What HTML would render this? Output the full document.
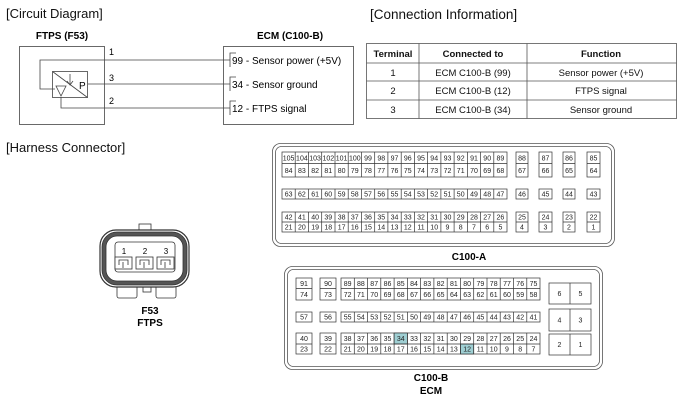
<!DOCTYPE html>
<html><head><meta charset="utf-8"><style>
html,body{margin:0;padding:0;background:#fff;}
svg{display:block;font-family:"Liberation Sans",Arial,sans-serif;}
.t{font-size:7px;text-anchor:middle;fill:#222}
.c{fill:#fff;stroke:#333;stroke-width:0.7}
</style></head><body>
<svg width="686" height="405" viewBox="0 0 686 405" xmlns="http://www.w3.org/2000/svg">
<text x="6" y="18" font-size="13" fill="#111">[Circuit Diagram]</text>
<text x="370" y="19" font-size="13.5" fill="#111">[Connection Information]</text>
<text x="6" y="152" font-size="13" fill="#111">[Harness Connector]</text>

<g fill="none" stroke="#444" stroke-width="0.8">
<rect x="19.5" y="46.5" width="85" height="78"/>
<rect x="223.5" y="46.5" width="130" height="78"/>
<rect x="52.5" y="71.5" width="35" height="26"/>
<path d="M52.5 71.5 L87.5 97.5"/>
<path d="M70 74 L70 84 M67 81 L70 85 L73 81"/>
<path d="M56 86 L66 86 L61 96 Z"/>
<path d="M55 89 L40 89 L40 60 L230 60"/>
<path d="M88 84 L230 84"/>
<path d="M61 97 L61 108 L230 108"/>
<path d="M236 53 L230 53 L230 67 M236 77 L230 77 L230 91 M236 101 L230 101 L230 115"/>
</g>
<text x="79" y="89" font-size="10">P</text>
<text x="62" y="39" font-size="10" font-weight="bold" text-anchor="middle">FTPS (F53)</text>
<text x="290" y="39" font-size="10" font-weight="bold" text-anchor="middle">ECM (C100-B)</text>
<text x="109" y="55" font-size="9">1</text>
<text x="109" y="81" font-size="9">3</text>
<text x="109" y="104" font-size="9">2</text>
<text x="232" y="64" font-size="10">99 - Sensor power (+5V)</text>
<text x="232" y="88" font-size="10">34 - Sensor ground</text>
<text x="232" y="112" font-size="10">12 - FTPS signal</text>

<g fill="none" stroke="#555" stroke-width="0.8">
<rect x="366.5" y="43.5" width="310" height="75"/>
<path d="M366.5 63 H676.5 M366.5 81 H676.5 M366.5 100 H676.5 M419 43.5 V118.5 M527 43.5 V118.5"/>
</g>
<g font-size="9.5" text-anchor="middle" fill="#111">
<text x="393" y="57" font-weight="bold">Terminal</text>
<text x="473" y="57" font-weight="bold">Connected to</text>
<text x="601" y="57" font-weight="bold">Function</text>
<text x="393" y="76">1</text><text x="473" y="76">ECM C100-B (99)</text><text x="601" y="76">Sensor power (+5V)</text>
<text x="393" y="94">2</text><text x="473" y="94">ECM C100-B (12)</text><text x="601" y="94">FTPS signal</text>
<text x="393" y="113">3</text><text x="473" y="113">ECM C100-B (34)</text><text x="601" y="113">Sensor ground</text>
</g>

<g fill="#fff" stroke="#333" stroke-width="0.8">
<rect x="139" y="224" width="12" height="8"/>
<rect x="117" y="284" width="20" height="14" rx="2"/>
<rect x="156" y="284" width="20" height="14" rx="2"/>
<rect x="143" y="287" width="8" height="5"/>
<rect x="100" y="230" width="89" height="57" rx="16" stroke-width="1.2"/>
<rect x="102" y="232" width="85" height="53" rx="15" fill="#555"/>
<rect x="106" y="236" width="77" height="45" rx="11" fill="#fff"/>
<rect x="115" y="242" width="60" height="30" rx="3"/>
<rect x="115" y="257" width="17" height="12"/><rect x="136" y="257" width="17" height="12"/><rect x="157" y="257" width="17" height="12"/>
<path d="M119 265 V260 H128 V265 M123 262 V268 M140 265 V260 H149 V265 M144 262 V268 M161 265 V260 H170 V265 M165 262 V268" fill="none"/>
</g>
<text x="124" y="254" font-size="8" text-anchor="middle">1</text>
<text x="145" y="254" font-size="8" text-anchor="middle">2</text>
<text x="166" y="254" font-size="8" text-anchor="middle">3</text>
<text x="150" y="314" font-size="10" font-weight="bold" text-anchor="middle">F53</text>
<text x="150" y="326" font-size="10" font-weight="bold" text-anchor="middle">FTPS</text>

<g fill="none" stroke="#555" stroke-width="0.8">
<rect x="272.5" y="143.5" width="342" height="103" rx="8"/>
<rect x="275.5" y="146.5" width="336" height="97" rx="6"/>
</g>
<g class="c">
<rect x="282" y="152" width="225" height="25"/>
<rect x="282" y="189" width="225" height="10"/>
<rect x="282" y="212" width="225" height="20"/>
<rect x="516" y="152" width="12" height="25"/><rect x="539" y="152" width="13" height="25"/><rect x="563" y="152" width="12" height="25"/><rect x="587" y="152" width="13" height="25"/>
<rect x="516" y="189" width="12" height="10"/><rect x="539" y="189" width="13" height="10"/><rect x="563" y="189" width="12" height="10"/><rect x="587" y="189" width="13" height="10"/>
<rect x="516" y="212" width="12" height="20"/><rect x="539" y="212" width="13" height="20"/><rect x="563" y="212" width="12" height="20"/><rect x="587" y="212" width="13" height="20"/>
<path d="M282 163.5 H507 M516 163.5 H528 M539 163.5 H552 M563 163.5 H575 M587 163.5 H600 M282 222 H507 M516 222 H528 M539 222 H552 M563 222 H575 M587 222 H600
M295.2 152V177M308.5 152V177M321.7 152V177M335 152V177M348.2 152V177M361.4 152V177M374.7 152V177M387.9 152V177M401.2 152V177M414.4 152V177M427.6 152V177M440.9 152V177M454.1 152V177M467.4 152V177M480.6 152V177M493.8 152V177
M295.2 189V199M308.5 189V199M321.7 189V199M335 189V199M348.2 189V199M361.4 189V199M374.7 189V199M387.9 189V199M401.2 189V199M414.4 189V199M427.6 189V199M440.9 189V199M454.1 189V199M467.4 189V199M480.6 189V199M493.8 189V199
M295.2 212V232M308.5 212V232M321.7 212V232M335 212V232M348.2 212V232M361.4 212V232M374.7 212V232M387.9 212V232M401.2 212V232M414.4 212V232M427.6 212V232M440.9 212V232M454.1 212V232M467.4 212V232M480.6 212V232M493.8 212V232"/>
</g>
<g class="t">
<text x="288.6" y="160.5">105</text><text x="301.9" y="160.5">104</text><text x="315.1" y="160.5">103</text><text x="328.3" y="160.5">102</text><text x="341.6" y="160.5">101</text><text x="354.8" y="160.5">100</text><text x="368" y="160.5">99</text><text x="381.3" y="160.5">98</text><text x="394.5" y="160.5">97</text><text x="407.8" y="160.5">96</text><text x="421" y="160.5">95</text><text x="434.2" y="160.5">94</text><text x="447.5" y="160.5">93</text><text x="460.7" y="160.5">92</text><text x="474" y="160.5">91</text><text x="487.2" y="160.5">90</text><text x="500.4" y="160.5">89</text>
<text x="522" y="160.5">88</text><text x="545.5" y="160.5">87</text><text x="569" y="160.5">86</text><text x="593.5" y="160.5">85</text>
<text x="288.6" y="173">84</text><text x="301.9" y="173">83</text><text x="315.1" y="173">82</text><text x="328.3" y="173">81</text><text x="341.6" y="173">80</text><text x="354.8" y="173">79</text><text x="368" y="173">78</text><text x="381.3" y="173">77</text><text x="394.5" y="173">76</text><text x="407.8" y="173">75</text><text x="421" y="173">74</text><text x="434.2" y="173">73</text><text x="447.5" y="173">72</text><text x="460.7" y="173">71</text><text x="474" y="173">70</text><text x="487.2" y="173">69</text><text x="500.4" y="173">68</text>
<text x="522" y="173">67</text><text x="545.5" y="173">66</text><text x="569" y="173">65</text><text x="593.5" y="173">64</text>
<text x="288.6" y="196.5">63</text><text x="301.9" y="196.5">62</text><text x="315.1" y="196.5">61</text><text x="328.3" y="196.5">60</text><text x="341.6" y="196.5">59</text><text x="354.8" y="196.5">58</text><text x="368" y="196.5">57</text><text x="381.3" y="196.5">56</text><text x="394.5" y="196.5">55</text><text x="407.8" y="196.5">54</text><text x="421" y="196.5">53</text><text x="434.2" y="196.5">52</text><text x="447.5" y="196.5">51</text><text x="460.7" y="196.5">50</text><text x="474" y="196.5">49</text><text x="487.2" y="196.5">48</text><text x="500.4" y="196.5">47</text>
<text x="522" y="196.5">46</text><text x="545.5" y="196.5">45</text><text x="569" y="196.5">44</text><text x="593.5" y="196.5">43</text>
<text x="288.6" y="219.5">42</text><text x="301.9" y="219.5">41</text><text x="315.1" y="219.5">40</text><text x="328.3" y="219.5">39</text><text x="341.6" y="219.5">38</text><text x="354.8" y="219.5">37</text><text x="368" y="219.5">36</text><text x="381.3" y="219.5">35</text><text x="394.5" y="219.5">34</text><text x="407.8" y="219.5">33</text><text x="421" y="219.5">32</text><text x="434.2" y="219.5">31</text><text x="447.5" y="219.5">30</text><text x="460.7" y="219.5">29</text><text x="474" y="219.5">28</text><text x="487.2" y="219.5">27</text><text x="500.4" y="219.5">26</text>
<text x="522" y="219.5">25</text><text x="545.5" y="219.5">24</text><text x="569" y="219.5">23</text><text x="593.5" y="219.5">22</text>
<text x="288.6" y="229.5">21</text><text x="301.9" y="229.5">20</text><text x="315.1" y="229.5">19</text><text x="328.3" y="229.5">18</text><text x="341.6" y="229.5">17</text><text x="354.8" y="229.5">16</text><text x="368" y="229.5">15</text><text x="381.3" y="229.5">14</text><text x="394.5" y="229.5">13</text><text x="407.8" y="229.5">12</text><text x="421" y="229.5">11</text><text x="434.2" y="229.5">10</text><text x="447.5" y="229.5">9</text><text x="460.7" y="229.5">8</text><text x="474" y="229.5">7</text><text x="487.2" y="229.5">6</text><text x="500.4" y="229.5">5</text>
<text x="522" y="229.5">4</text><text x="545.5" y="229.5">3</text><text x="569" y="229.5">2</text><text x="593.5" y="229.5">1</text>
</g>
<text x="469" y="260" font-size="10" font-weight="bold" text-anchor="middle">C100-A</text>

<g fill="none" stroke="#555" stroke-width="0.8">
<rect x="284.5" y="266.5" width="318" height="103" rx="8"/>
<rect x="287.5" y="269.5" width="312" height="97" rx="6"/>
</g>
<g class="c">
<rect x="296" y="278" width="16" height="22"/><rect x="320" y="278" width="16" height="22"/><rect x="341" y="278" width="199" height="22"/>
<rect x="296" y="312" width="16" height="10"/><rect x="320" y="312" width="16" height="10"/><rect x="341" y="312" width="199" height="10"/>
<rect x="296" y="333" width="16" height="21"/><rect x="320" y="333" width="16" height="21"/><rect x="341" y="333" width="199" height="21"/>
<rect x="394.1" y="333" width="13.3" height="11" fill="#9fcfd3"/>
<rect x="460.4" y="344" width="13.3" height="10" fill="#9fcfd3"/>
<rect x="549" y="283" width="42" height="21"/><rect x="549" y="309" width="42" height="22"/><rect x="549" y="334" width="42" height="21"/>
<path d="M570 283V304M570 309V331M570 334V355 M296 288.5H312M320 288.5H336M341 288.5H540M296 344H312M320 344H336M341 344H540
M354.3 278V300M367.5 278V300M380.8 278V300M394.1 278V300M407.4 278V300M420.6 278V300M433.9 278V300M447.2 278V300M460.4 278V300M473.7 278V300M487 278V300M500.2 278V300M513.5 278V300M526.8 278V300
M354.3 312V322M367.5 312V322M380.8 312V322M394.1 312V322M407.4 312V322M420.6 312V322M433.9 312V322M447.2 312V322M460.4 312V322M473.7 312V322M487 312V322M500.2 312V322M513.5 312V322M526.8 312V322
M354.3 333V354M367.5 333V354M380.8 333V354M394.1 333V354M407.4 333V354M420.6 333V354M433.9 333V354M447.2 333V354M460.4 333V354M473.7 333V354M487 333V354M500.2 333V354M513.5 333V354M526.8 333V354"/>
</g>
<g class="t">
<text x="304" y="286">91</text><text x="328" y="286">90</text>
<text x="347.6" y="286">89</text><text x="360.9" y="286">88</text><text x="374.2" y="286">87</text><text x="387.5" y="286">86</text><text x="400.8" y="286">85</text><text x="414" y="286">84</text><text x="427.3" y="286">83</text><text x="440.6" y="286">82</text><text x="453.9" y="286">81</text><text x="467.1" y="286">80</text><text x="480.4" y="286">79</text><text x="493.7" y="286">78</text><text x="507" y="286">77</text><text x="520.2" y="286">76</text><text x="533.5" y="286">75</text>
<text x="304" y="297">74</text><text x="328" y="297">73</text>
<text x="347.6" y="297">72</text><text x="360.9" y="297">71</text><text x="374.2" y="297">70</text><text x="387.5" y="297">69</text><text x="400.8" y="297">68</text><text x="414" y="297">67</text><text x="427.3" y="297">66</text><text x="440.6" y="297">65</text><text x="453.9" y="297">64</text><text x="467.1" y="297">63</text><text x="480.4" y="297">62</text><text x="493.7" y="297">61</text><text x="507" y="297">60</text><text x="520.2" y="297">59</text><text x="533.5" y="297">58</text>
<text x="304" y="319.5">57</text><text x="328" y="319.5">56</text>
<text x="347.6" y="319.5">55</text><text x="360.9" y="319.5">54</text><text x="374.2" y="319.5">53</text><text x="387.5" y="319.5">52</text><text x="400.8" y="319.5">51</text><text x="414" y="319.5">50</text><text x="427.3" y="319.5">49</text><text x="440.6" y="319.5">48</text><text x="453.9" y="319.5">47</text><text x="467.1" y="319.5">46</text><text x="480.4" y="319.5">45</text><text x="493.7" y="319.5">44</text><text x="507" y="319.5">43</text><text x="520.2" y="319.5">42</text><text x="533.5" y="319.5">41</text>
<text x="304" y="341">40</text><text x="328" y="341">39</text>
<text x="347.6" y="341">38</text><text x="360.9" y="341">37</text><text x="374.2" y="341">36</text><text x="387.5" y="341">35</text><text x="400.8" y="341">34</text><text x="414" y="341">33</text><text x="427.3" y="341">32</text><text x="440.6" y="341">31</text><text x="453.9" y="341">30</text><text x="467.1" y="341">29</text><text x="480.4" y="341">28</text><text x="493.7" y="341">27</text><text x="507" y="341">26</text><text x="520.2" y="341">25</text><text x="533.5" y="341">24</text>
<text x="304" y="351.5">23</text><text x="328" y="351.5">22</text>
<text x="347.6" y="351.5">21</text><text x="360.9" y="351.5">20</text><text x="374.2" y="351.5">19</text><text x="387.5" y="351.5">18</text><text x="400.8" y="351.5">17</text><text x="414" y="351.5">16</text><text x="427.3" y="351.5">15</text><text x="440.6" y="351.5">14</text><text x="453.9" y="351.5">13</text><text x="467.1" y="351.5">12</text><text x="480.4" y="351.5">11</text><text x="493.7" y="351.5">10</text><text x="507" y="351.5">9</text><text x="520.2" y="351.5">8</text><text x="533.5" y="351.5">7</text>
<text x="559.5" y="296">6</text><text x="580.5" y="296">5</text>
<text x="559.5" y="322.5">4</text><text x="580.5" y="322.5">3</text>
<text x="559.5" y="347">2</text><text x="580.5" y="347">1</text>
</g>
<text x="431" y="381" font-size="10" font-weight="bold" text-anchor="middle">C100-B</text>
<text x="431" y="394" font-size="10" font-weight="bold" text-anchor="middle">ECM</text>
</svg>
</body></html>
